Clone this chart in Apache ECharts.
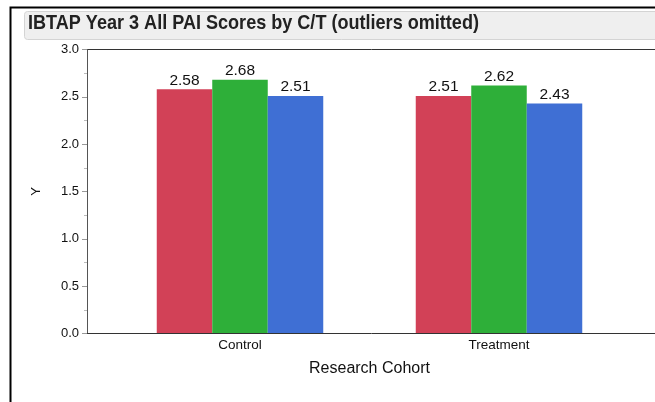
<!DOCTYPE html>
<html>
<head>
<meta charset="UTF-8">
<title>IBTAP Year 3</title>
<script src="https://cdn.jsdelivr.net/npm/echarts@6/dist/echarts.min.js"></script>
<style>
  body { margin: 0; padding: 0; background: #fff; }
  #main { width: 655px; height: 402px; }
</style>
</head>
<body>
<div id="main"></div>
<script>
// values
const cohorts = ['Control', 'Treatment'];
const redVals = [2.58, 2.51];
const greenVals = [2.68, 2.62];
const blueVals = [2.51, 2.43];
const yTicks = [0, 0.5, 1.0, 1.5, 2.0, 2.5, 3.0];

const chart = echarts.init(document.getElementById('main'));
const font = '"Liberation Sans", Arial, Helvetica, sans-serif';

function bar(name, data, color) {
    return {
        name: name,
        type: 'bar',
        data: data,
        barWidth: 55.5,
        barGap: '0%',
        itemStyle: { color: color },
        label: {
            show: true,
            position: 'top',
            distance: 1,
            fontFamily: font,
            fontSize: 15.5,
            color: '#111',
            formatter: p => p.value.toFixed(2)
        }
    };
}

chart.setOption({
    animation: false,
    textStyle: { fontFamily: font },
    graphic: [
        { type: 'polyline', shape: { points: [[10.5, 410], [10.5, 7.5], [670, 7.5]] },
          style: { stroke: '#000', lineWidth: 2, fill: null } },
        { type: 'rect', shape: { x: 24.5, y: 11.5, width: 680, height: 28, r: 3 },
          style: { fill: '#efefef', stroke: '#d4d4d4', lineWidth: 1 } },
        { type: 'text', x: 28, y: 13, scaleX: 0.86,
          style: { text: 'IBTAP Year 3 All PAI Scores by C/T (outliers omitted)',
                   font: 'bold 21px ' + font, fill: '#222' } },
        { type: 'line', shape: { x1: 87, y1: 49.5, x2: 660, y2: 49.5 },
          style: { stroke: '#333', lineWidth: 1 } },
        { type: 'line', shape: { x1: 87, y1: 333.5, x2: 660, y2: 333.5 },
          style: { stroke: '#333', lineWidth: 1 }, z: 10 }
    ],
    grid: { left: 110.5, top: 49.5, width: 518, height: 284 },
    xAxis: {
        type: 'category',
        data: cohorts,
        axisLine: { show: false },
        axisTick: { show: false },
        axisLabel: { fontSize: 13.5, color: '#111', margin: 5 },
        name: 'Research Cohort',
        nameLocation: 'middle',
        nameGap: 27,
        nameTextStyle: { fontSize: 16, color: '#111' }
    },
    yAxis: {
        type: 'value',
        min: 0,
        max: 3,
        interval: 0.5,
        offset: 23.5,
        axisLine: { show: true, lineStyle: { color: '#555' } },
        axisTick: { show: true, length: 5, lineStyle: { color: '#999' } },
        minorTick: { show: true, splitNumber: 2, length: 3, lineStyle: { color: '#bbb' } },
        splitLine: { show: false },
        axisLabel: { fontSize: 13, color: '#111', margin: 8,
                     formatter: v => yTicks.includes(v) ? v.toFixed(1) : '' },
        name: 'Y',
        nameLocation: 'middle',
        nameGap: 44,
        nameRotate: 90,
        nameTextStyle: { fontSize: 13, color: '#111' }
    },
    series: [
        bar('Red', redVals, '#d24157'),
        bar('Green', greenVals, '#2eaf39'),
        bar('Blue', blueVals, '#3f6fd4')
    ]
});
</script>
</body>
</html>
